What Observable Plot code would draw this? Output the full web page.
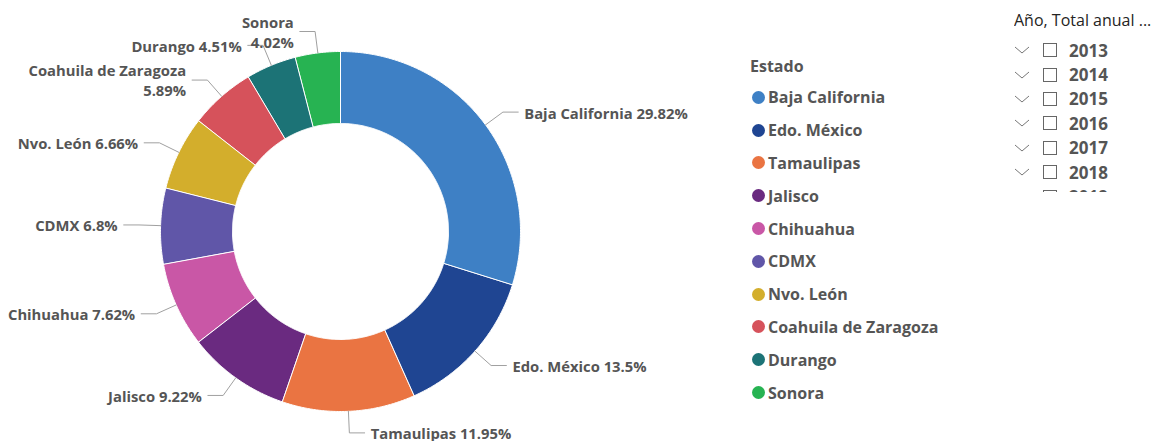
<!DOCTYPE html>
<html><head><meta charset="utf-8">
<script src="https://cdn.jsdelivr.net/npm/d3@7"></script>
<script src="https://cdn.jsdelivr.net/npm/@observablehq/plot@0.6"></script>
<style>
body{margin:0;background:#fff;font-family:"Open Sans","Segoe UI",sans-serif;}
#wrap{position:relative;width:1164px;height:441px;overflow:hidden;}
#legend{position:absolute;left:750px;top:55px;color:#555;font-weight:700;}
#legend .title{font-size:16px;margin-bottom:4px;color:#555;}
#legend .item{display:flex;align-items:center;height:32.8px;font-size:16px;}
#legend .dot{width:13px;height:13px;border-radius:50%;margin-right:3px;margin-left:2px;}
#slicer{position:absolute;left:1014px;top:9px;width:150px;height:183px;overflow:hidden;color:#252423;}
#slicer .title{font-size:16px;white-space:nowrap;height:29px;}
#slicer .row{display:flex;align-items:center;height:24.4px;font-size:17px;font-weight:700;color:#555;}
#slicer .chev{width:16px;height:10px;margin-right:13px;}
#slicer .box{width:14px;height:14px;border:1px solid #666;margin-right:12px;box-sizing:border-box;}
</style></head>
<body><div id="wrap"><div id="chart"></div><div id="legend"></div><div id="slicer"></div></div>
<script>
const estados = ["Baja California","Edo. México","Tamaulipas","Jalisco","Chihuahua","CDMX","Nvo. León","Coahuila de Zaragoza","Durango","Sonora"];
const porcentajes = [29.82,13.5,11.95,9.22,7.62,6.8,6.66,5.89,4.51,4.02];
const colores = ["#3E80C5","#1F4592","#EA7442","#6A2A80","#C957A6","#6056A8","#D3AE2C","#D6525B","#1C7376","#27B352"];
const anios = ["2013","2014","2015","2016","2017","2018","2019"];
const etiquetasEnDosLineas = ["Coahuila de Zaragoza","Sonora"];

const innerR = 0.6, elbowR = 1.12, armLen = 0.085;
const total = d3.sum(porcentajes);
let acc = 0;
const slices = estados.map((name,i)=>{
  const a0 = acc/total*2*Math.PI; acc += porcentajes[i];
  const a1 = acc/total*2*Math.PI;
  return {name, pct: porcentajes[i], a0, a1, mid:(a0+a1)/2};
});
const pt = (r,a)=>({x: r*Math.sin(a), y: r*Math.cos(a)});
const poly = [];
for (const s of slices){
  const n = Math.max(4, Math.ceil((s.a1-s.a0)/(Math.PI/360)));
  for (let k=0;k<=n;k++){ const a=s.a0+(s.a1-s.a0)*k/n; poly.push({...pt(1,a), name:s.name}); }
  for (let k=n;k>=0;k--){ const a=s.a0+(s.a1-s.a0)*k/n; poly.push({...pt(innerR,a), name:s.name}); }
}
const leaders = [], labels = [];
for (const s of slices){
  const side = Math.sin(s.mid) >= 0 ? 1 : -1;
  const e = pt(elbowR, s.mid);
  leaders.push({...pt(1.0, s.mid), name:s.name});
  leaders.push({...e, name:s.name});
  leaders.push({x:e.x+side*armLen, y:e.y, name:s.name});
  const sep = etiquetasEnDosLineas.includes(s.name) ? "\n" : " ";
  labels.push({x:e.x+side*armLen, y:e.y, side, text: s.name + sep + s.pct + "%"});
}

const chart = Plot.plot({
  width:1164, height:441, margin:0,
  x:{domain:[-1,1], range:[160,520], axis:null},
  y:{domain:[-1,1], range:[411,51], axis:null},
  color:{domain:estados, range:colores},
  style:{fontFamily:'"Open Sans", sans-serif', background:"#fff"},
  marks:[
    Plot.line(poly,{x:"x",y:"y",z:"name",fill:"name",stroke:"#fff",strokeWidth:1,curve:"linear-closed"}),
    Plot.line(leaders,{x:"x",y:"y",z:"name",stroke:"#a0a0a0",strokeWidth:1}),
    Plot.text(labels.filter(d=>d.side>0),{x:"x",y:"y",text:"text",dx:6,textAnchor:"start",fill:"#555",fontWeight:700,fontSize:14.8,lineHeight:1.35}),
    Plot.text(labels.filter(d=>d.side<0),{x:"x",y:"y",text:"text",dx:-6,textAnchor:"end",fill:"#555",fontWeight:700,fontSize:14.8,lineHeight:1.35})
  ]
});
document.getElementById("chart").append(chart);

const lg = document.getElementById("legend");
lg.innerHTML = '<div class="title">Estado</div>' + estados.map((n,i)=>
  `<div class="item"><span class="dot" style="background:${colores[i]}"></span>${n}</div>`).join("");

const sl = document.getElementById("slicer");
sl.innerHTML = '<div class="title">Año, Total anual ...</div>' + anios.map(y=>
  `<div class="row"><svg class="chev" viewBox="0 0 16 10"><path d="M1 2 L8 8 L15 2" fill="none" stroke="#777" stroke-width="1"/></svg><span class="box"></span>${y}</div>`).join("");
</script></body></html>
